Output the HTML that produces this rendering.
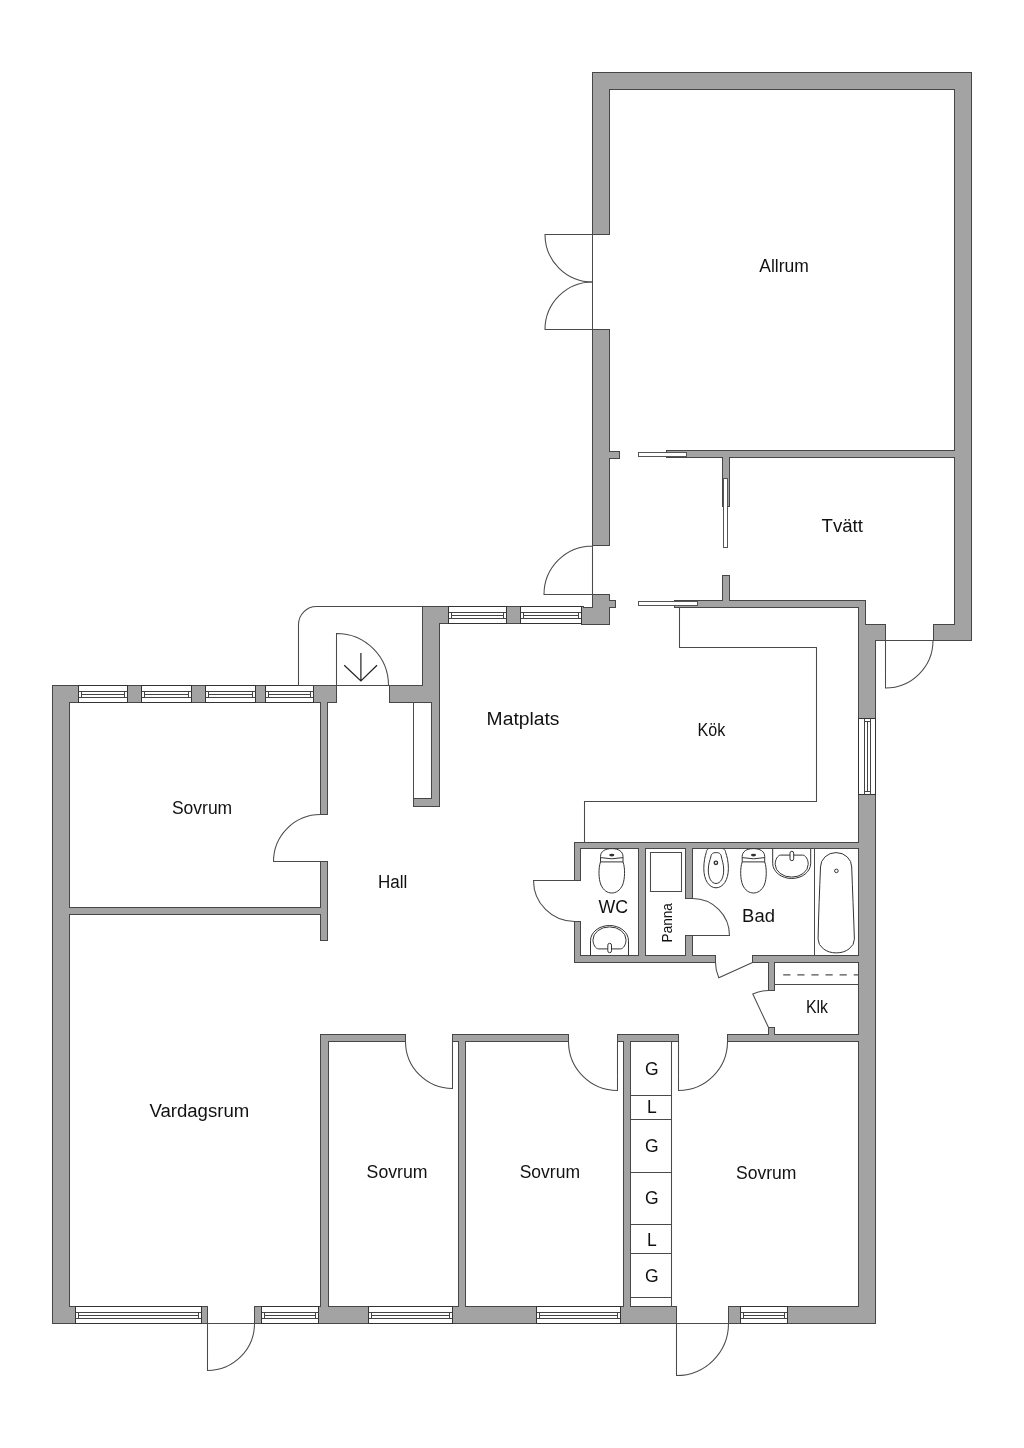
<!DOCTYPE html><html><head><meta charset="utf-8"><style>html,body{margin:0;padding:0;background:#fff;}svg{display:block;will-change:transform;}text{font-family:"Liberation Sans",sans-serif;fill:#111;}</style></head><body>
<svg width="1024" height="1448" viewBox="0 0 1024 1448">
<rect width="1024" height="1448" fill="#fff"/>
<g fill="none" stroke="#464646" stroke-width="2">
<rect x="593" y="73" width="378" height="16"/>
<rect x="955" y="73" width="16" height="567"/>
<rect x="593" y="73" width="16" height="161"/>
<rect x="593" y="330" width="16" height="215"/>
<rect x="608" y="452" width="11" height="6"/>
<rect x="667" y="451" width="289" height="6"/>
<rect x="723" y="457" width="6" height="49"/>
<rect x="934" y="625" width="37" height="15"/>
<rect x="675" y="601" width="190" height="6"/>
<rect x="723" y="576" width="6" height="26"/>
<rect x="859" y="601" width="6" height="25"/>
<rect x="859" y="625" width="26" height="15"/>
<rect x="859" y="639" width="16" height="684"/>
<rect x="593" y="595" width="16" height="29"/>
<rect x="582" y="608" width="27" height="16"/>
<rect x="608" y="601" width="7" height="6"/>
<rect x="423" y="607" width="160" height="16"/>
<rect x="423" y="607" width="16" height="95"/>
<rect x="390" y="686" width="49" height="16"/>
<rect x="432" y="701" width="7" height="105"/>
<rect x="414" y="799" width="25" height="7"/>
<rect x="53" y="686" width="283" height="16"/>
<rect x="53" y="686" width="16" height="637"/>
<rect x="53" y="1307" width="154" height="16"/>
<rect x="255" y="1307" width="421" height="16"/>
<rect x="729" y="1307" width="146" height="16"/>
<rect x="321" y="701" width="6" height="113"/>
<rect x="321" y="862" width="6" height="78"/>
<rect x="68" y="908" width="255" height="6"/>
<rect x="321" y="1035" width="7" height="273"/>
<rect x="321" y="1035" width="84" height="6"/>
<rect x="453" y="1035" width="115" height="6"/>
<rect x="618" y="1035" width="60" height="6"/>
<rect x="728" y="1035" width="132" height="6"/>
<rect x="459" y="1041" width="6" height="267"/>
<rect x="624" y="1041" width="6" height="267"/>
<rect x="769" y="961" width="5" height="29"/>
<rect x="769" y="1028" width="5" height="8"/>
<rect x="575" y="843" width="285" height="5"/>
<rect x="575" y="843" width="5" height="37"/>
<rect x="575" y="922" width="5" height="40"/>
<rect x="575" y="956" width="140" height="6"/>
<rect x="753" y="956" width="107" height="6"/>
<rect x="639" y="848" width="6" height="109"/>
<rect x="686" y="848" width="6" height="50"/>
<rect x="686" y="936" width="6" height="21"/>
</g>
<g fill="#a3a3a3" stroke="none">
<rect x="593" y="73" width="378" height="16"/>
<rect x="955" y="73" width="16" height="567"/>
<rect x="593" y="73" width="16" height="161"/>
<rect x="593" y="330" width="16" height="215"/>
<rect x="608" y="452" width="11" height="6"/>
<rect x="667" y="451" width="289" height="6"/>
<rect x="723" y="457" width="6" height="49"/>
<rect x="934" y="625" width="37" height="15"/>
<rect x="675" y="601" width="190" height="6"/>
<rect x="723" y="576" width="6" height="26"/>
<rect x="859" y="601" width="6" height="25"/>
<rect x="859" y="625" width="26" height="15"/>
<rect x="859" y="639" width="16" height="684"/>
<rect x="593" y="595" width="16" height="29"/>
<rect x="582" y="608" width="27" height="16"/>
<rect x="608" y="601" width="7" height="6"/>
<rect x="423" y="607" width="160" height="16"/>
<rect x="423" y="607" width="16" height="95"/>
<rect x="390" y="686" width="49" height="16"/>
<rect x="432" y="701" width="7" height="105"/>
<rect x="414" y="799" width="25" height="7"/>
<rect x="53" y="686" width="283" height="16"/>
<rect x="53" y="686" width="16" height="637"/>
<rect x="53" y="1307" width="154" height="16"/>
<rect x="255" y="1307" width="421" height="16"/>
<rect x="729" y="1307" width="146" height="16"/>
<rect x="321" y="701" width="6" height="113"/>
<rect x="321" y="862" width="6" height="78"/>
<rect x="68" y="908" width="255" height="6"/>
<rect x="321" y="1035" width="7" height="273"/>
<rect x="321" y="1035" width="84" height="6"/>
<rect x="453" y="1035" width="115" height="6"/>
<rect x="618" y="1035" width="60" height="6"/>
<rect x="728" y="1035" width="132" height="6"/>
<rect x="459" y="1041" width="6" height="267"/>
<rect x="624" y="1041" width="6" height="267"/>
<rect x="769" y="961" width="5" height="29"/>
<rect x="769" y="1028" width="5" height="8"/>
<rect x="575" y="843" width="285" height="5"/>
<rect x="575" y="843" width="5" height="37"/>
<rect x="575" y="922" width="5" height="40"/>
<rect x="575" y="956" width="140" height="6"/>
<rect x="753" y="956" width="107" height="6"/>
<rect x="639" y="848" width="6" height="109"/>
<rect x="686" y="848" width="6" height="50"/>
<rect x="686" y="936" width="6" height="21"/>
</g>
<rect x="78.5" y="685.5" width="49" height="17" fill="#fff" stroke="#333" stroke-width="1"/><path d="M78.5 691.5H127.5M78.5 697.5H127.5M81.5 694.5H124.5M81.5 691.5V697.5M124.5 691.5V697.5" fill="none" stroke="#444" stroke-width="1"/>
<rect x="141.5" y="685.5" width="50" height="17" fill="#fff" stroke="#333" stroke-width="1"/><path d="M141.5 691.5H191.5M141.5 697.5H191.5M144.5 694.5H188.5M144.5 691.5V697.5M188.5 691.5V697.5" fill="none" stroke="#444" stroke-width="1"/>
<rect x="205.5" y="685.5" width="50" height="17" fill="#fff" stroke="#333" stroke-width="1"/><path d="M205.5 691.5H255.5M205.5 697.5H255.5M208.5 694.5H252.5M208.5 691.5V697.5M252.5 691.5V697.5" fill="none" stroke="#444" stroke-width="1"/>
<rect x="265.5" y="685.5" width="48" height="17" fill="#fff" stroke="#333" stroke-width="1"/><path d="M265.5 691.5H313.5M265.5 697.5H313.5M268.5 694.5H310.5M268.5 691.5V697.5M310.5 691.5V697.5" fill="none" stroke="#444" stroke-width="1"/>
<rect x="448.5" y="606.5" width="58" height="17" fill="#fff" stroke="#333" stroke-width="1"/><path d="M448.5 612.5H506.5M448.5 618.5H506.5M451.5 615.5H503.5M451.5 612.5V618.5M503.5 612.5V618.5" fill="none" stroke="#444" stroke-width="1"/>
<rect x="520.5" y="606.5" width="61" height="17" fill="#fff" stroke="#333" stroke-width="1"/><path d="M520.5 612.5H581.5M520.5 618.5H581.5M523.5 615.5H578.5M523.5 612.5V618.5M578.5 612.5V618.5" fill="none" stroke="#444" stroke-width="1"/>
<rect x="75.5" y="1306.5" width="126" height="17" fill="#fff" stroke="#333" stroke-width="1"/><path d="M75.5 1312.5H201.5M75.5 1318.5H201.5M78.5 1315.5H198.5M78.5 1312.5V1318.5M198.5 1312.5V1318.5" fill="none" stroke="#444" stroke-width="1"/>
<rect x="261.5" y="1306.5" width="57" height="17" fill="#fff" stroke="#333" stroke-width="1"/><path d="M261.5 1312.5H318.5M261.5 1318.5H318.5M264.5 1315.5H315.5M264.5 1312.5V1318.5M315.5 1312.5V1318.5" fill="none" stroke="#444" stroke-width="1"/>
<rect x="368.5" y="1306.5" width="84" height="17" fill="#fff" stroke="#333" stroke-width="1"/><path d="M368.5 1312.5H452.5M368.5 1318.5H452.5M371.5 1315.5H449.5M371.5 1312.5V1318.5M449.5 1312.5V1318.5" fill="none" stroke="#444" stroke-width="1"/>
<rect x="536.5" y="1306.5" width="84" height="17" fill="#fff" stroke="#333" stroke-width="1"/><path d="M536.5 1312.5H620.5M536.5 1318.5H620.5M539.5 1315.5H617.5M539.5 1312.5V1318.5M617.5 1312.5V1318.5" fill="none" stroke="#444" stroke-width="1"/>
<rect x="740.5" y="1306.5" width="47" height="17" fill="#fff" stroke="#333" stroke-width="1"/><path d="M740.5 1312.5H787.5M740.5 1318.5H787.5M743.5 1315.5H784.5M743.5 1312.5V1318.5M784.5 1312.5V1318.5" fill="none" stroke="#444" stroke-width="1"/>
<rect x="858.5" y="718.5" width="17" height="76" fill="#fff" stroke="#333" stroke-width="1"/><path d="M864.5 718.5V794.5M870.5 718.5V794.5M867.5 721.5V791.5M864.5 721.5H870.5M864.5 791.5H870.5" fill="none" stroke="#444" stroke-width="1"/>
<g fill="none" stroke="#4a4a4a" stroke-width="1.05">
<path d="M592.5 234.5V329.5"/>
<path d="M592.5 234.5H545A47.5 47.5 0 0 0 592.5 282"/>
<path d="M592.5 329.5H545A47.5 47.5 0 0 1 592.5 282"/>
<path d="M592.5 545.5V594.5H544A48.5 48.5 0 0 1 592.5 546"/>
<path d="M875 640.5H933A47.5 47.5 0 0 1 885.5 688V640.5"/>
<path d="M336.5 685.5V633.5A52 52 0 0 1 388.5 685.5"/>
<path d="M298.5 685.5V624.5A18 18 0 0 1 316.5 606.5H422.5"/>
<path d="M298.5 685.5H422.5"/>
<path d="M320.5 861.5H273.5A47 47 0 0 1 320.5 814.5"/>
<path d="M207.5 1323.5H254.5A47 47 0 0 1 207.5 1370.5V1323.5"/>
<path d="M676.5 1323.5H728.5A52 52 0 0 1 676.5 1375.5V1323.5"/>
<path d="M405.5 1041.5A47 47 0 0 0 452.5 1088.5V1041.5"/>
<path d="M568.5 1041.5A49 49 0 0 0 617.5 1090.5V1041.5"/>
<path d="M678.5 1041.5V1090.5A49 49 0 0 0 727.5 1041.5"/>
<path d="M574.5 880.5H533.5A41 41 0 0 0 574.5 921.5"/>
<path d="M692.5 898.5A37 37 0 0 1 729.5 935.5H692.5"/>
<path d="M752.5 962.5L718.8 977.8A37 37 0 0 1 715.5 962.5"/>
<path d="M768.5 1027.5L752.8 994A37 37 0 0 1 768.5 990.5"/>
<path d="M679.5 607V647.5H816.5V801.5H584.5V842.5"/>
<path d="M413.5 702.5V798.5"/>
<path d="M774.5 984.5H858.5"/>
<path d="M671.5 1041.5V1306.5"/>
<path d="M630.5 1095.5H671.5"/>
<path d="M630.5 1119.5H671.5"/>
<path d="M630.5 1172.5H671.5"/>
<path d="M630.5 1224.5H671.5"/>
<path d="M630.5 1253.5H671.5"/>
<path d="M630.5 1297.5H671.5"/>
<path d="M814.5 848.5V955.5"/>
<path d="M650.5 852.5H681.5V891.5H650.5Z"/>
</g>
<path d="M783.2 974.8H858" stroke="#505050" stroke-width="1.3" stroke-dasharray="7.2 6.9" fill="none"/>
<g fill="#fff" stroke="#555" stroke-width="1">
<rect x="638.5" y="452.5" width="48" height="4"/>
<rect x="638.5" y="601.5" width="59" height="4"/>
<rect x="723.5" y="478.5" width="4" height="69"/>
</g>
<path d="M360.9 653V681M344.2 665.2L360.9 681L377 665.2" fill="none" stroke="#222" stroke-width="1.2"/>
<g transform="translate(0 0)" fill="none" stroke="#333" stroke-width="1"><path d="M600.5 861.9V856.5C600.5 851.5 605 848.6 611.8 848.6C618.5 848.6 623 851.5 623 856.5V861.9"/><path d="M600.5 857.6Q611.8 860 623 857.6"/><path d="M600.5 861.9H623"/><path d="M600.5 861.9C598.3 868 598.5 879 601 885C603.5 890.5 607.5 893 611.8 893C616 893 620 890.5 622.6 885C625 879 625.3 868 623 861.9"/><ellipse cx="611.8" cy="855.1" rx="2.6" ry="1.3" fill="#333" stroke="none"/></g>
<g transform="translate(141.7 0)" fill="none" stroke="#333" stroke-width="1"><path d="M600.5 861.9V856.5C600.5 851.5 605 848.6 611.8 848.6C618.5 848.6 623 851.5 623 856.5V861.9"/><path d="M600.5 857.6Q611.8 860 623 857.6"/><path d="M600.5 861.9H623"/><path d="M600.5 861.9C598.3 868 598.5 879 601 885C603.5 890.5 607.5 893 611.8 893C616 893 620 890.5 622.6 885C625 879 625.3 868 623 861.9"/><ellipse cx="611.8" cy="855.1" rx="2.6" ry="1.3" fill="#333" stroke="none"/></g>
<g fill="none" stroke="#333" stroke-width="1"><path d="M772.7 848.7V863.3A19 15.2 0 0 0 810.7 863.3V848.7"/><path d="M780.7 855.1H802.7C805.5 855.1 808.3 859.5 808.2 864.3A16.5 12.8 0 0 1 775.2 864.3C775.1 859.5 777.9 855.1 780.7 855.1Z"/><rect x="790" y="851.3" width="3.7" height="9.4" rx="1.85" fill="#fff"/></g>
<g transform="matrix(1 0 0 -1 -182.2 1804)" fill="none" stroke="#333" stroke-width="1"><path d="M772.7 848.7V863.3A19 15.2 0 0 0 810.7 863.3V848.7"/><path d="M780.7 855.1H802.7C805.5 855.1 808.3 859.5 808.2 864.3A16.5 12.8 0 0 1 775.2 864.3C775.1 859.5 777.9 855.1 780.7 855.1Z"/><rect x="790" y="851.3" width="3.7" height="9.4" rx="1.85" fill="#fff"/></g>
<g fill="none" stroke="#333" stroke-width="1"><path d="M708.6 848.7C707 849.5 706.3 851 706.3 852.3C705 856 703.8 862 703.8 868.5C703.8 880 709 887.8 716 887.8C723 887.8 728.4 880 728.4 868.5C728.4 862 727 856 725.6 852.3C725.6 851 725 849.5 723.2 848.7"/><path d="M716.2 852.6C713 852.6 711.2 853.5 710.8 857C710 860 708.3 864 708.3 870C708.3 878 711.5 883.5 716 883.5C720.5 883.5 723.7 878 723.7 870C723.7 864 722 860 721.4 857C721 853.5 719.2 852.6 716.2 852.6Z"/><circle cx="715.9" cy="862.8" r="1.7" stroke-width="1.4"/></g>
<g fill="none" stroke="#333" stroke-width="1"><path d="M820.5 867A15.6 14.4 0 0 1 851.7 867C852.5 890 853.6 915 854.4 939.2A18.15 13.7 0 0 1 818.1 939.2C818.5 915 819.6 890 820.5 867Z"/><circle cx="836.4" cy="870.9" r="1.8"/></g>
<text x="759.3" y="271.9" font-size="18" textLength="49.5" lengthAdjust="spacingAndGlyphs">Allrum</text>
<text x="821.5" y="532.3" font-size="18" textLength="41.4" lengthAdjust="spacingAndGlyphs">Tv&#228;tt</text>
<text x="486.6" y="724.6" font-size="18" textLength="72.9" lengthAdjust="spacingAndGlyphs">Matplats</text>
<text x="697.6" y="735.8" font-size="18" textLength="27.8" lengthAdjust="spacingAndGlyphs">K&#246;k</text>
<text x="171.9" y="814.2" font-size="18" textLength="60.3" lengthAdjust="spacingAndGlyphs">Sovrum</text>
<text x="377.9" y="887.9" font-size="18" textLength="29.3" lengthAdjust="spacingAndGlyphs">Hall</text>
<text x="149.4" y="1117" font-size="18" textLength="99.8" lengthAdjust="spacingAndGlyphs">Vardagsrum</text>
<text x="366.6" y="1178.2" font-size="18" textLength="61" lengthAdjust="spacingAndGlyphs">Sovrum</text>
<text x="519.7" y="1178.2" font-size="18" textLength="60.3" lengthAdjust="spacingAndGlyphs">Sovrum</text>
<text x="736" y="1179.2" font-size="18" textLength="60.5" lengthAdjust="spacingAndGlyphs">Sovrum</text>
<text x="598.6" y="913" font-size="17.5" textLength="29.6" lengthAdjust="spacingAndGlyphs">WC</text>
<text x="742.1" y="922" font-size="17.5" textLength="32.8" lengthAdjust="spacingAndGlyphs">Bad</text>
<text x="805.9" y="1012.8" font-size="17.5" textLength="22" lengthAdjust="spacingAndGlyphs">Klk</text>
<text x="651.9" y="1074.9" font-size="17.5" text-anchor="middle">G</text>
<text x="651.9" y="1113.2" font-size="17.5" text-anchor="middle">L</text>
<text x="651.9" y="1152.3" font-size="17.5" text-anchor="middle">G</text>
<text x="651.9" y="1204.2" font-size="17.5" text-anchor="middle">G</text>
<text x="651.9" y="1246" font-size="17.5" text-anchor="middle">L</text>
<text x="651.9" y="1282" font-size="17.5" text-anchor="middle">G</text>
<text transform="translate(672.1 942.4) rotate(-90)" font-size="14" textLength="39.2" lengthAdjust="spacingAndGlyphs">Panna</text>
</svg></body></html>
